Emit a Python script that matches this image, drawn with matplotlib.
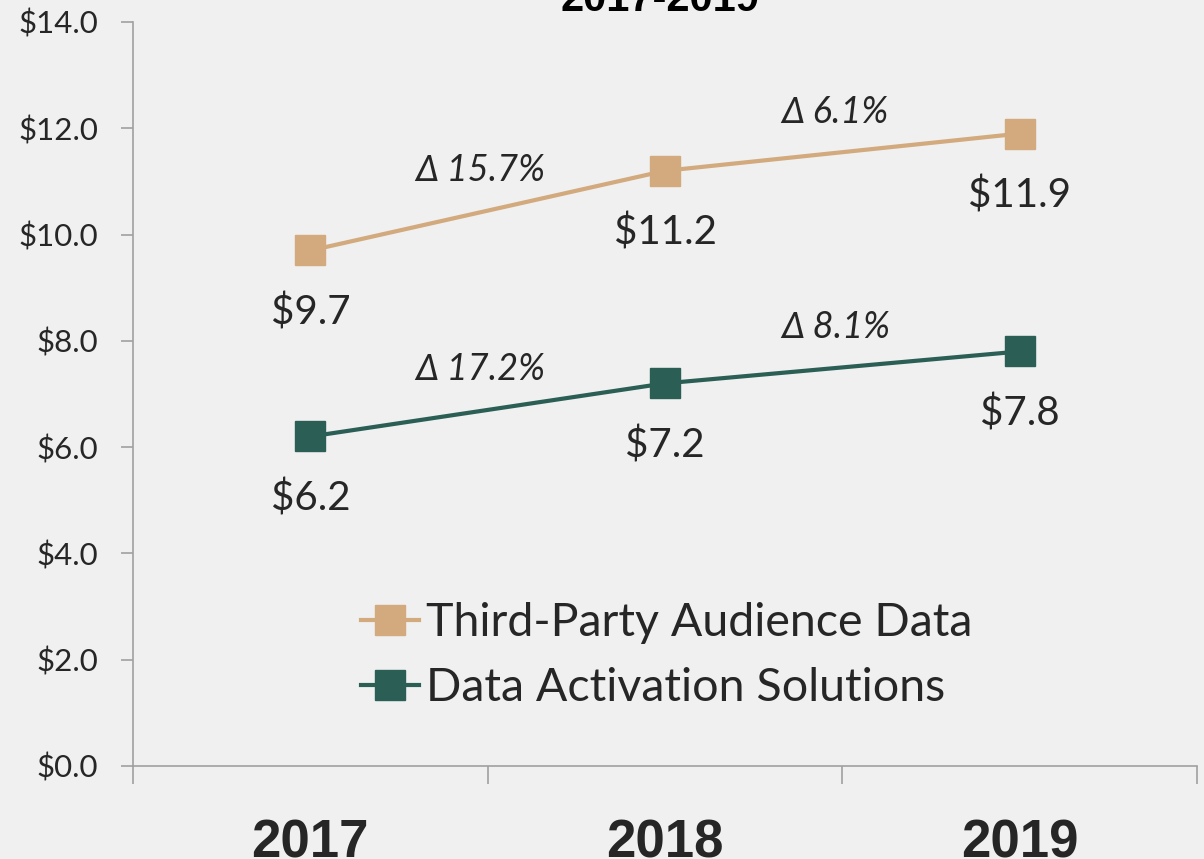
import matplotlib.pyplot as plt
import numpy as np

years = ["2017", "2018", "2019"]
audience_data = [9.7, 11.2, 11.9]
activation = [6.2, 7.2, 7.8]
audience_growth = ["15.7%", "6.1%"]
activation_growth = ["17.2%", "8.1%"]
series_names = ["Third-Party Audience Data", "Data Activation Solutions"]
title = "2017-2019"

bg = "#f0f0f0"
tan = "#d2aa7d"
green = "#2b5f55"
axis_grey = "#a0a0a0"
text_col = "#262626"

plt.rcParams['font.family'] = ['Lato', 'DejaVu Sans']

fig = plt.figure(figsize=(12.04, 8.59), dpi=100, facecolor=bg)
ax = fig.add_axes([0.1105, 0.1083, 0.8837, 0.8661], facecolor=bg)

x = np.arange(len(years))
ax.plot(x, audience_data, color=tan, lw=3, marker='s', ms=21,
        markeredgecolor=tan, label=series_names[0])
ax.plot(x, activation, color=green, lw=3, marker='s', ms=21,
        markeredgecolor=green, label=series_names[1])

# value labels below each marker
for xi, v in zip(x, audience_data):
    ax.annotate(f"${v:.1f}", (xi, v), xytext=(0, -31), textcoords='offset points',
                ha='center', va='top', fontsize=29, color=text_col)
for xi, v in zip(x, activation):
    ax.annotate(f"${v:.1f}", (xi, v), xytext=(0, -31), textcoords='offset points',
                ha='center', va='top', fontsize=29, color=text_col)

# growth labels between years
for i, g in enumerate(audience_growth):
    ym = (audience_data[i] + audience_data[i + 1]) / 2
    ax.annotate("\u0394 " + g, (i + 0.5 - 0.02, ym), xytext=(0, 17), textcoords='offset points',
                ha='center', va='bottom', fontsize=26, style='italic', color=text_col)
for i, g in enumerate(activation_growth):
    ym = (activation[i] + activation[i + 1]) / 2
    ax.annotate("\u0394 " + g, (i + 0.5 - 0.02, ym), xytext=(0, 17), textcoords='offset points',
                ha='center', va='bottom', fontsize=26, style='italic', color=text_col)

ax.set_xlim(-0.5, 2.5)
ax.set_ylim(0, 14)
ax.set_yticks(np.arange(0, 14.1, 2))
ax.set_yticklabels([f"${v:.1f}" for v in np.arange(0, 14.1, 2)])
ax.set_xticks(x)
ax.set_xticklabels(years, fontsize=38, fontweight='bold', color=text_col,
                   family=['Liberation Sans', 'DejaVu Sans'])
ax.set_xticks([-0.5, 0.5, 1.5, 2.5], minor=True)
ax.tick_params(axis='x', which='major', length=0, pad=38)
ax.tick_params(axis='x', which='minor', length=13, width=1.2, color=axis_grey)
ax.tick_params(axis='y', length=9, width=1.2, color=axis_grey, labelsize=22.5,
               labelcolor=text_col, pad=16)

for s in ['top', 'right']:
    ax.spines[s].set_visible(False)
for s in ['left', 'bottom']:
    ax.spines[s].set_color(axis_grey)
    ax.spines[s].set_linewidth(1.2)

leg = ax.legend(loc='lower left', bbox_to_anchor=(0.175, 0.02), frameon=False,
                fontsize=33.5, handlelength=1.25, handletextpad=0.15, labelspacing=0.5,
                markerscale=1.0, labelcolor=text_col)

fig.text(0.548, 1.0, title, ha='center', va='center', fontsize=30,
         fontweight='bold', color='black', family=['Liberation Sans', 'DejaVu Sans'])

fig.savefig("out.png", dpi=100, facecolor=bg)
